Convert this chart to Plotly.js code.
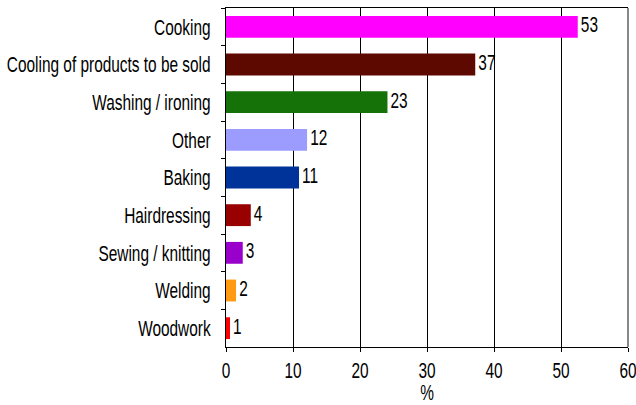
<!DOCTYPE html>
<html>
<head>
<meta charset="utf-8">
<script src="https://cdn.plot.ly/plotly-3.0.1.min.js"></script>
<style>html,body{margin:0;padding:0;background:#fff;}#chart{width:636px;height:405px;}</style>
</head>
<body>
<div id="chart"></div>
<script>
const categories = ["Cooking","Cooling of products to be sold","Washing / ironing","Other","Baking","Hairdressing","Sewing / knitting","Welding","Woodwork"];
const values = [52.5, 37.2, 24.1, 12.1, 10.9, 3.7, 2.5, 1.5, 0.6];
const labels = ["53","37","23","12","11","4","3","2","1"];
const colors = ["#FF00FF","#5E0900","#147208","#9C9CFF","#003399","#990000","#9900CC","#FF9A12","#FF0000"];
const xTicks = [0,10,20,30,40,50,60];

const font = "'Liberation Sans',Arial,sans-serif";
const fs = 22;

Plotly.newPlot('chart', [{
  type: 'bar',
  orientation: 'h',
  y: categories,
  x: values,
  marker: {color: colors, line: {width: 0}},
  width: 0.58,
  hoverinfo: 'none'
}, {
  type: 'scatter',
  mode: 'text',
  y: categories,
  x: values,
  text: labels,
  texttemplate: '\u2009%{text}',
  textposition: 'middle right',
  cliponaxis: false,
  textfont: {family: font, size: fs, color: '#000'},
  hoverinfo: 'none'
}], {
  width: 636, height: 405,
  margin: {l: 226, r: 8, t: 8, b: 58},
  paper_bgcolor: '#fff', plot_bgcolor: '#fff',
  showlegend: false,
  font: {family: font, size: fs, color: '#000'},
  xaxis: {
    range: [0, 60],
    tickvals: xTicks,
    ticktext: xTicks.map(String),
    showgrid: true, gridcolor: '#000', gridwidth: 1,
    zeroline: false,
    showline: true, linecolor: '#000', linewidth: 1, mirror: true,
    ticks: 'outside', ticklen: 4, tickcolor: '#000',
    ticklabeloverflow: 'allow',
    tickfont: {family: font, size: fs, color: '#000'},
    title: {text: '%', font: {family: font, size: fs, color: '#000'}, standoff: 13}
  },
  yaxis: {
    type: 'category',
    autorange: 'reversed',
    showgrid: false,
    zeroline: false,
    showline: true, linecolor: '#000', linewidth: 1,
    ticks: 'outside', ticklen: 4, tickcolor: '#000',
    tickson: 'boundaries',
    ticklabelstandoff: 10,
    tickfont: {family: font, size: fs, color: '#000'}
  },
  shapes: [{type: 'line', xref: 'paper', yref: 'paper', x0: 1, x1: 1, y0: 0, y1: 1, line: {color: '#888', width: 2}}]
}, {staticPlot: true}).then(function(gd){
  const sel = gd.querySelectorAll('.xtick text, .ytick text, .textpoint text, .g-xtitle text');
  sel.forEach(function(t){
    const len = t.getComputedTextLength();
    if (len > 0) {
      t.setAttribute('textLength', (len * 0.7).toFixed(2));
      t.setAttribute('lengthAdjust', 'spacingAndGlyphs');
    }
  });
});
</script>
</body>
</html>
